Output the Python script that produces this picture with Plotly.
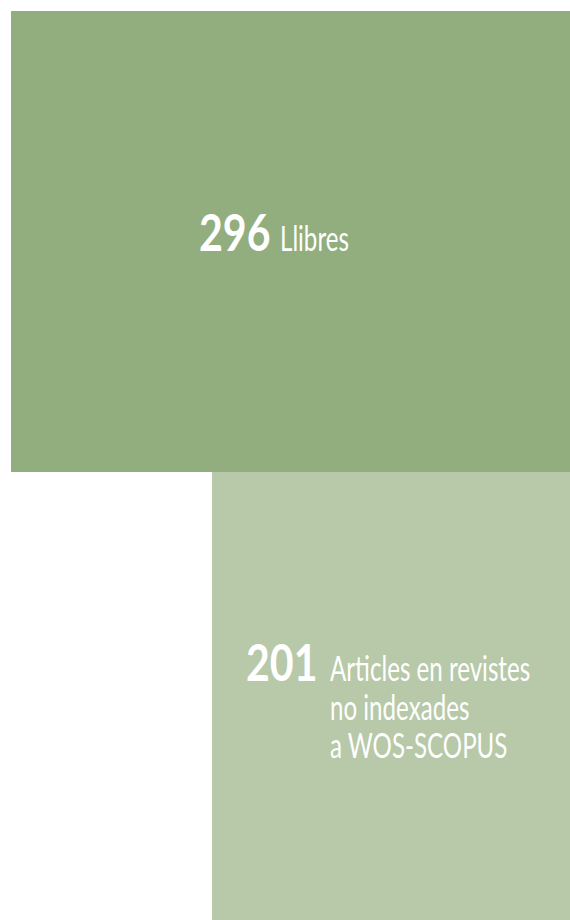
import json
import plotly.graph_objects as go

# ---------------- Data ----------------
values = [296, 201]
label_lines = [
    ["Llibres"],
    ["Articles en revistes", "no indexades", "a WOS-SCOPUS"],
]
colors = ["#92AE7E", "#B7C9A8"]

# ---------------- Layout geometry (page pixels) ----------------
x_left = [11, 212]
x_right = [570, 570]
y_top = [11, 472]
y_bottom = [472, 920]

FONT = "Lato, Roboto, sans-serif"
NUM_SIZE = 52
LAB_SIZE = 34
NUM_SCALE = 0.79   # horizontal condensing of the numbers
LAB_SCALE = 0.71   # horizontal condensing of the labels

num_right = [272, 319]
num_base = [251, 681]
lab_left = [278, 328]
lab_base = [[251], [681, 720, 758]]

fig = go.Figure()
for i in range(len(values)):
    fig.add_trace(go.Bar(
        x=[(x_left[i] + x_right[i]) / 2],
        y=[y_bottom[i] - y_top[i]],
        base=[y_top[i]],
        width=[x_right[i] - x_left[i]],
        marker=dict(color=colors[i], line=dict(width=0)),
        hoverinfo="skip",
        showlegend=False,
    ))

scales = []
for i in range(len(values)):
    fig.add_annotation(
        x=num_right[i], y=num_base[i] - 0.387 * NUM_SIZE, xref="x", yref="y",
        text=f"<b>{values[i]}</b>", showarrow=False,
        xanchor="right", yanchor="middle", align="right",
        font=dict(family=FONT, size=NUM_SIZE, color="white", weight=700),
    )
    scales.append(NUM_SCALE)
    for line, base in zip(label_lines[i], lab_base[i]):
        fig.add_annotation(
            x=lab_left[i], y=base - 0.387 * LAB_SIZE, xref="x", yref="y",
            text=line, showarrow=False, align="left",
            xanchor="left", yanchor="middle",
            font=dict(family=FONT, size=LAB_SIZE, color="white"),
        )
        scales.append(LAB_SCALE)

fig.update_layout(
    width=570, height=920,
    margin=dict(l=0, r=0, t=0, b=0),
    paper_bgcolor="white", plot_bgcolor="white",
    xaxis=dict(range=[0, 570], visible=False, fixedrange=True),
    yaxis=dict(range=[920, 0], visible=False, fixedrange=True),
    bargap=0,
)

post = """
document.body.style.margin = '0';
var gd = document.getElementById('{plot_id}');
var sc = %s;
gd.querySelectorAll('g.annotation').forEach(function(g){
  var i = +g.getAttribute('data-index');
  var t = g.querySelector('text.annotation-text');
  if (!t) return;
  var anchor = t.getAttribute('text-anchor');
  t.style.transformBox = 'fill-box';
  t.style.transformOrigin = (anchor === 'end') ? 'right center' : 'left center';
  t.style.transform = 'scaleX(' + sc[i] + ')';
});
""" % json.dumps(scales)

fig.write_html("out.html", config={"displayModeBar": False, "staticPlot": True},
               post_script=post)
